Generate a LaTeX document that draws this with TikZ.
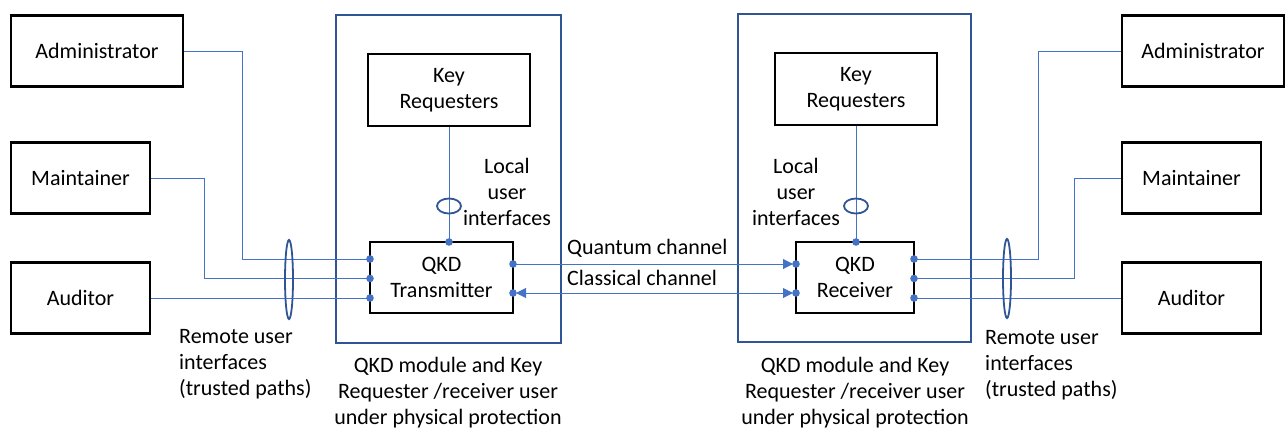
\documentclass[tikz,border=0pt]{standalone}
\usepackage{fontspec}
\setmainfont{Carlito}
\usetikzlibrary{arrows.meta}

\definecolor{lineblue}{HTML}{4472C4}
\definecolor{frameblue}{HTML}{2F5597}

\tikzset{
  every node/.style={font=\fontsize{22}{26}\selectfont,align=center,inner sep=0pt},
  actor/.style={draw=black,line width=2.8pt,minimum height=71pt},
  module/.style={draw=black,line width=2.8pt,minimum height=71pt},
  frame/.style={draw=frameblue,line width=2pt,minimum width=225pt,minimum height=328pt},
  link/.style={draw=lineblue,line width=1pt},
  bundle/.style={draw=frameblue,line width=1.8pt},
  note/.style={align=left,anchor=west},
  tip/.style={-{Triangle[length=10pt,width=10pt]},shorten >=3pt},
  bitip/.style={{Triangle[length=10pt,width=10pt]}-{Triangle[length=10pt,width=10pt]},shorten >=3pt,shorten <=3pt}
}

\begin{document}
\begin{tikzpicture}[x=1pt,y=-1pt]
      \useasboundingbox (0,0) rectangle (1285,429);

      % protected areas
      \node [frame] (frameL) at (448.5,178.5) {};
      \node [frame,minimum width=233pt] (frameR) at (854.5,178) {};

      % users
      \node [actor,minimum width=172pt] (admL) at (97,51) {Administrator};
      \node [actor,minimum width=139pt] (mntL) at (80.5,178) {Maintainer};
      \node [actor,minimum width=139pt] (audL) at (80.5,298) {Auditor};
      \node [actor,minimum width=162pt] (admR) at (1203,51) {Administrator};
      \node [actor,minimum width=139pt] (mntR) at (1191.5,178) {Maintainer};
      \node [actor,minimum width=139pt] (audR) at (1191.5,298) {Auditor};

      % modules
      \node [module,minimum width=162pt,minimum height=72pt] (krL) at (449,90) {Key\\Requesters};
      \node [module,minimum width=162pt,minimum height=72pt] (krR) at (856,89) {Key\\Requesters};
      \node [module,minimum width=143pt] (tx) at (441.5,277.5) {QKD\\Transmitter};
      \node [module,minimum width=118pt] (rx) at (855,277.5) {QKD\\Receiver};

      % ports
      \coordinate (txT) at (449,242);
      \coordinate (txA) at (370,259);
      \coordinate (txB) at (370,278.5);
      \coordinate (txC) at (370,298);
      \coordinate (txQ) at (513,264);
      \coordinate (txK) at (513,293);
      \coordinate (rxT) at (856,242);
      \coordinate (rxQ) at (796,264);
      \coordinate (rxK) at (796,293);
      \coordinate (rxA) at (914,259);
      \coordinate (rxB) at (914,278.5);
      \coordinate (rxC) at (914,298);

      % user interfaces
      \draw [link] (krL.south) -- (txT);
      \draw [link] (krR.south -| rxT) -- (rxT);
      \draw [link] (admL.east) -| (242,259) -- (txA);
      \draw [link] (mntL.east) -| (204,278.5) -- (txB);
      \draw [link] (audL.east) -- (txC);
      \draw [link] (rxA) -| (1038,51) -- (admR.west);
      \draw [link] (rxB) -| (1074,178) -- (mntR.west);
      \draw [link] (rxC) -- (audR.west);

      % channels
      \draw [link,lineblue,tip] (txQ) -- (rxQ);
      \draw [link,lineblue,bitip] (txK) -- (rxK);

      \foreach \p in {txT,txA,txB,txC,txQ,txK,rxT,rxQ,rxK,rxA,rxB,rxC}
        \fill [lineblue] (\p) circle (3.8pt);

      % bundles
      \draw [bundle] (449,206) ellipse [x radius=12pt,y radius=7.5pt];
      \draw [bundle] (856,206) ellipse [x radius=12pt,y radius=7.5pt];
      \draw [bundle] (289,279.5) ellipse [x radius=4pt,y radius=39.5pt];
      \draw [bundle] (1007,278.5) ellipse [x radius=4pt,y radius=39.5pt];

      % texts
      \node (locL) at (507,192) {Local\\user\\interfaces};
      \node (locR) at (796,192) {Local\\user\\interfaces};
      \node [note] (qch) at (567,248) {Quantum channel};
      \node [note] (cch) at (567,278) {Classical channel};
      \node [note] (remL) at (179,364) {Remote user\\interfaces\\(trusted paths)};
      \node [note] (remR) at (985,365) {Remote user\\interfaces\\(trusted paths)};
      \node (capL) at (448,393) {QKD module and Key\\Requester /receiver user\\under physical protection};
      \node (capR) at (855,393) {QKD module and Key\\Requester /receiver user\\under physical protection};
    \end{tikzpicture}
\end{document}
